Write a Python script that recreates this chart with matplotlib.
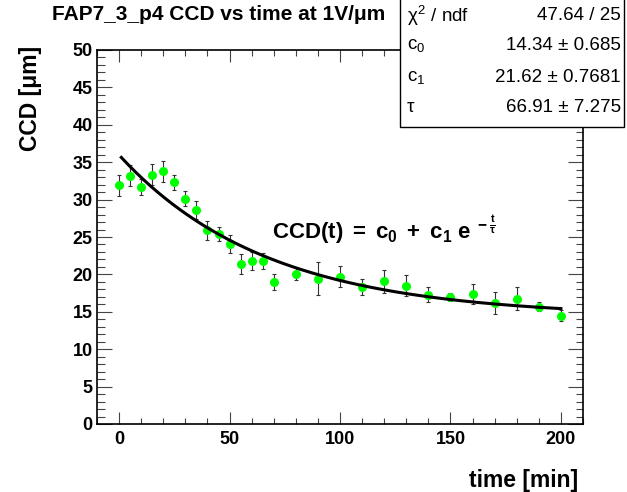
import numpy as np
import matplotlib
matplotlib.use("Agg")
import matplotlib.pyplot as plt
from matplotlib.patches import Rectangle
from matplotlib.ticker import MultipleLocator

plt.rcParams['font.family'] = ['Liberation Sans', 'DejaVu Sans']
plt.rcParams['mathtext.fontset'] = 'custom'
plt.rcParams['mathtext.rm'] = 'Liberation Sans'
plt.rcParams['mathtext.it'] = 'Liberation Sans'
plt.rcParams['mathtext.bf'] = 'Liberation Sans:bold'

# measured CCD vs time
time_min = [0, 5, 10, 15, 20, 25, 30, 35, 40, 45, 50, 55, 60, 65, 70,
            80, 90, 100, 110, 120, 130, 140, 150, 160, 170, 180, 190, 200]
ccd_um = [31.9, 33.2, 31.7, 33.3, 33.8, 32.3, 30.1, 28.6, 25.9, 25.4, 24.1, 21.4, 21.8, 21.8, 19.0,
          20.1, 19.4, 19.7, 18.3, 19.1, 18.5, 17.3, 17.0, 17.4, 16.2, 16.75, 15.7, 14.5]
ccd_err = [1.45, 1.4, 1.1, 1.4, 1.4, 1.05, 1.0, 1.2, 1.25, 1.0, 1.2, 1.3, 1.25, 1.1, 1.1,
           0.8, 2.2, 1.4, 1.1, 1.55, 1.4, 1.05, 0.5, 1.35, 1.5, 1.5, 0.6, 0.75]

# fit result (shown in stats box)
c0, c1, tau = 14.34, 21.62, 66.91
stat_labels = [r"$\chi^2$ / ndf", r"c$_0$", r"c$_1$", "τ"]
stat_values = ["47.64 / 25", "14.34 ± 0.685", "21.62 ± 0.7681", "66.91 ± 7.275"]

W, H = 627, 492
fig = plt.figure(figsize=(W / 100, H / 100), dpi=100)
ax = fig.add_axes([97 / W, 1 - 424 / H, (583 - 97) / W, (424 - 50) / H])

ax.errorbar(time_min, ccd_um, yerr=ccd_err, fmt='none', ecolor='#333333',
            elinewidth=0.8, capsize=1.5, capthick=0.8, zorder=2)
ax.plot(time_min, ccd_um, 'o', color='#00ff00', markersize=6.5, markeredgewidth=0, zorder=3)

t = np.linspace(1, 200, 300)
ax.plot(t, c0 + c1 * np.exp(-t / tau), color='black', lw=2.2, zorder=4)

ax.set_xlim(-10, 210)
ax.set_ylim(0, 50)
ax.xaxis.set_major_locator(MultipleLocator(50))
ax.xaxis.set_minor_locator(MultipleLocator(10))
ax.yaxis.set_major_locator(MultipleLocator(5))
ax.yaxis.set_minor_locator(MultipleLocator(1))
ax.tick_params(axis='both', which='both', direction='in', top=True, right=True,
               width=0.8, color='#444444')
ax.tick_params(axis='x', which='major', length=8.6, pad=5, labelsize=13)
ax.tick_params(axis='x', which='minor', length=4.3)
ax.tick_params(axis='y', which='major', length=10.8, pad=3, labelsize=13)
ax.tick_params(axis='y', which='minor', length=5.4)
for lab in ax.get_xticklabels() + ax.get_yticklabels():
    lab.set_fontweight('bold')
for sp in ax.spines.values():
    sp.set_linewidth(1.2)

ax.text(69, 26, r"$\mathbf{CCD(t)\ =\ c_0\ +\ c_1\ e^{\ -\frac{t}{\tau}}}$",
        fontsize=16, ha='left', va='center')

fig.text(52 / W, 1 - 15 / H, "FAP7_3_p4 CCD vs time at 1V/μm", fontsize=15,
         fontweight='bold', ha='left', va='center')
fig.text(30 / W, 1 - 46 / H, "CCD [μm]", fontsize=16.5, fontweight='bold',
         rotation=90, ha='center', va='top')
fig.text(578 / W, 1 - 481 / H, "time [min]", fontsize=16.5, fontweight='bold',
         ha='right', va='center')

# stats box
fig.add_artist(Rectangle((400 / W, 1 - 127 / H), (624 - 400) / W, 127 / H + 0.01,
                         transform=fig.transFigure, facecolor='white',
                         edgecolor='black', lw=1, zorder=5))
row_y = [16, 46, 78, 108]
for lab, val, yp in zip(stat_labels, stat_values, row_y):
    fig.text(407 / W, 1 - yp / H, lab, fontsize=13.5, ha='left', va='center', zorder=6)
    fig.text(621 / W, 1 - yp / H, val, fontsize=13.5, ha='right', va='center', zorder=6)

fig.savefig("out.png", dpi=100)
